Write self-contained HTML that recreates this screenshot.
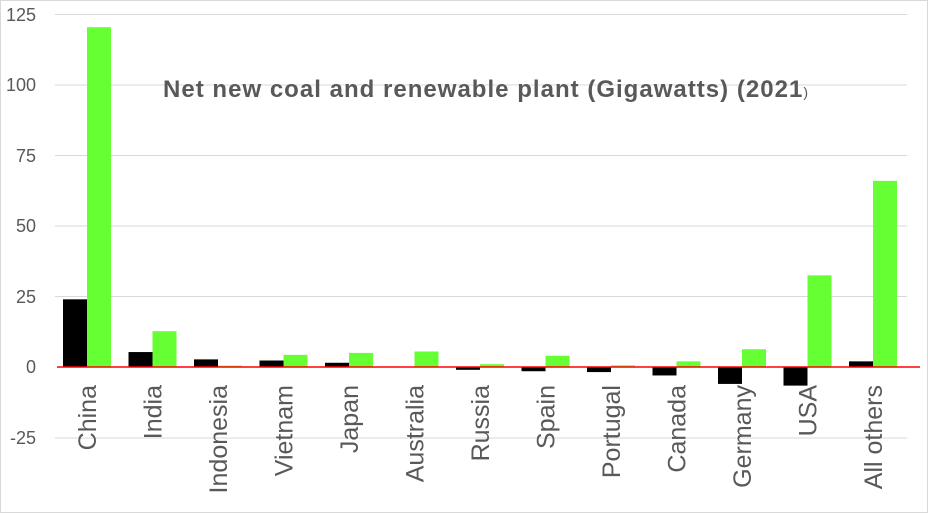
<!DOCTYPE html>
<html><head><style>
body{margin:0;background:#fff}
svg{display:block}
text{font-family:"Liberation Sans",sans-serif;fill:#595959}
</style></head><body>
<svg width="928" height="513" xmlns="http://www.w3.org/2000/svg">
<rect x="0.5" y="0.5" width="927" height="512" fill="#fff" stroke="#d9d9d9"/>
<g stroke="#d9d9d9" stroke-width="1">
<line x1="55" x2="907" y1="14.5" y2="14.5"/>
<line x1="55" x2="907" y1="85" y2="85"/>
<line x1="55" x2="907" y1="155.5" y2="155.5"/>
<line x1="55" x2="907" y1="226" y2="226"/>
<line x1="55" x2="907" y1="296.5" y2="296.5"/>
<line x1="55" x2="907" y1="438" y2="438"/>
</g>
<g font-size="18" text-anchor="end">
<text x="36" y="21">125</text>
<text x="36" y="91">100</text>
<text x="36" y="162">75</text>
<text x="36" y="232">50</text>
<text x="36" y="303">25</text>
<text x="36" y="373">0</text>
<text x="36" y="444">-25</text>
</g>
<text x="163" y="97" font-size="24" font-weight="bold" textLength="645" lengthAdjust="spacing">Net new coal and renewable plant (Gigawatts) (2021<tspan font-size="14" font-weight="normal">)</tspan></text>
<g id="bars"></g>
<line x1="57" x2="920" y1="367" y2="367" stroke="#ff0000" stroke-width="1.5"/>
<g id="labels" font-size="25" text-anchor="end"></g>
<script>
var d=[["China",24,120.5],["India",5.3,12.7],["Indonesia",2.7,0.5],["Vietnam",2.3,4.3],["Japan",1.5,5],["Australia",0.15,5.5],["Russia",-1,1],["Spain",-1.5,4],["Portugal",-1.8,0.6],["Canada",-3,2],["Germany",-6,6.3],["USA",-6.6,32.5],["All others",2,66]];
var ns="http://www.w3.org/2000/svg",b=document.getElementById("bars"),l=document.getElementById("labels");
function r(x,v,c){var y0=367,h=v*2.82,e=document.createElementNS(ns,"rect");e.setAttribute("x",x);e.setAttribute("width",24);e.setAttribute("y",v>=0?y0-h:y0);e.setAttribute("height",Math.abs(h));e.setAttribute("fill",c);b.appendChild(e);}
d.forEach(function(a,i){var s=55+i*65.5;r(s+8,a[1],"#000");r(s+32,a[2],"#66ff33");
var t=document.createElementNS(ns,"text");var cx=s+32+9;t.setAttribute("transform","translate("+cx+",385) rotate(-90)");t.textContent=a[0];l.appendChild(t);});
</script>
</svg>
</body></html>
